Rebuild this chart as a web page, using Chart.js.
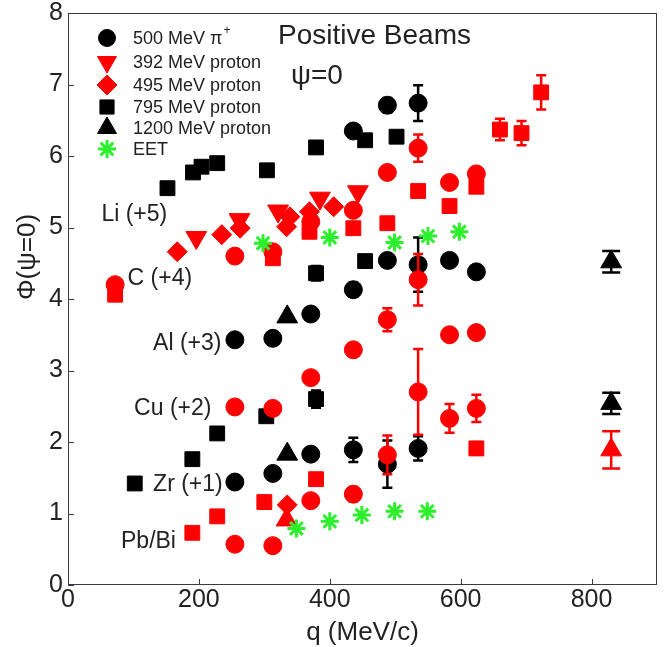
<!DOCTYPE html>
<html>
<head>
<meta charset="utf-8">
<script src="https://cdn.jsdelivr.net/npm/chart.js@4.4.1/dist/chart.umd.min.js"></script>
<style>
  html, body { margin: 0; padding: 0; background: #fff; }
  #wrap { width: 670px; height: 647px; }
</style>
</head>
<body>
<div id="wrap"><canvas id="phiChart" width="670" height="647"></canvas></div>
<script>
/* =========================
   DATA  [q (MeV/c), Phi, error]
========================= */

const qTicks = [0, 200, 400, 600, 800];
const phiTicks = [0, 1, 2, 3, 4, 5, 6, 7, 8];

const pionBlack = [
  [436, 6.35, 0], [488, 6.71, 0.1], [535, 6.74, 0.25],
  [488, 4.54, 0], [535, 4.48, 0.38], [583, 4.54, 0], [624, 4.38, 0], [436, 4.13, 0.1],
  [255, 3.43, 0], [313, 3.45, 0], [371, 3.79, 0],
  [255, 1.44, 0], [313, 1.56, 0], [371, 1.83, 0], [436, 1.89, 0.17], [488, 1.69, 0.33], [535, 1.91, 0.17]
];

const pionRed = [
  [535, 6.11, 0.19], [488, 5.77, 0.08], [583, 5.63, 0], [624, 5.75, 0], [436, 5.24, 0],
  [371, 5.08, 0], [313, 4.66, 0], [255, 4.60, 0],
  [72, 4.20, 0], [535, 4.27, 0.36],
  [371, 2.90, 0], [436, 3.29, 0], [488, 3.71, 0.16], [583, 3.50, 0], [624, 3.53, 0],
  [255, 2.49, 0], [313, 2.47, 0], [535, 2.70, 0.6], [583, 2.33, 0.2], [624, 2.47, 0.19],
  [488, 1.82, 0.27],
  [255, 0.57, 0], [313, 0.55, 0], [371, 1.18, 0.06], [436, 1.27, 0.1]
];

const p392 = [
  [196, 4.86, 0], [262, 5.11, 0], [321, 5.23, 0], [385, 5.41, 0], [443, 5.50, 0]
];

const p495 = [
  [167, 4.66, 0], [235, 4.90, 0], [263, 4.99, 0], [334, 5.01, 0], [339, 5.15, 0],
  [369, 5.22, 0], [406, 5.29, 0],
  [335, 1.12, 0]
];

const p795Black = [
  [152, 5.55, 0], [191, 5.77, 0], [204, 5.85, 0], [228, 5.90, 0], [304, 5.80, 0],
  [379, 6.12, 0], [454, 6.22, 0], [502, 6.27, 0],
  [379, 4.36, 0.1], [454, 4.53, 0],
  [303, 2.36, 0], [228, 2.12, 0], [379, 2.60, 0.12],
  [190, 1.76, 0], [102, 1.42, 0]
];

const p795Red = [
  [660, 6.37, 0.15], [693, 6.32, 0.17], [723, 6.89, 0.24],
  [535, 5.51, 0], [583, 5.30, 0], [624, 5.57, 0], [488, 5.06, 0], [436, 4.99, 0],
  [369, 4.94, 0], [313, 4.57, 0],
  [72, 4.06, 0],
  [624, 1.91, 0.09],
  [190, 0.73, 0.05], [228, 0.96, 0.05], [300, 1.16, 0.05], [379, 1.48, 0.05]
];

const p1200Black = [
  [335, 3.75, 0], [335, 1.83, 0], [830, 4.52, 0.15], [830, 2.54, 0.15]
];

const p1200Red = [
  [334, 0.91, 0], [830, 1.89, 0.26]
];

const eet = [
  [298, 4.78, 0], [400, 4.86, 0], [499, 4.79, 0], [550, 4.88, 0], [598, 4.94, 0],
  [349, 0.79, 0], [400, 0.89, 0], [449, 0.98, 0], [499, 1.03, 0], [549, 1.03, 0]
];

const groupLabels = ["Li (+5)", "C (+4)", "Al (+3)", "Cu (+2)", "Zr (+1)", "Pb/Bi"];

/* =========================
   STYLE
========================= */

const RED = "#ff0000";
const BLACK = "#000000";
const GREEN = "#2cf02c";
const TEXT = "#222222";
const FONT = "'Liberation Sans', Arial, Helvetica, sans-serif";

// label anchors in data units (q, Phi)
const groupLabelPos = [[51, 5.18], [91, 4.29], [130, 3.38], [101, 2.47], [130, 1.41], [81, 0.61]];

function makeSet(label, rows, color, pointStyle, radius, extra) {
  return Object.assign({
    label: label,
    data: rows.map((r) => ({ x: r[0], y: r[1] })),
    err: rows.map((r) => r[2]),
    backgroundColor: color,
    borderColor: color,
    borderWidth: 1,
    pointStyle: pointStyle,
    pointRadius: radius,
    pointHoverRadius: radius,
    showLine: false,
    capWidth: 10,
  }, extra || {});
}

// index 0 is drawn on top
const datasets = [
  makeSet("EET", eet, GREEN, "star", 9, { borderWidth: 3 }),
  makeSet("500 MeV pi+ (red)", pionRed, RED, "circle", 9),
  makeSet("392 MeV proton", p392, RED, "triangle", 12, { rotation: 180 }),
  makeSet("495 MeV proton", p495, RED, "rectRot", 10),
  makeSet("795 MeV proton (red)", p795Red, RED, "rect", 10.5),
  makeSet("1200 MeV proton (red)", p1200Red, RED, "triangle", 12, { capWidth: 18 }),
  makeSet("500 MeV pi+", pionBlack, BLACK, "circle", 9),
  makeSet("795 MeV proton", p795Black, BLACK, "rect", 10.5),
  makeSet("1200 MeV proton", p1200Black, BLACK, "triangle", 12, { capWidth: 18 }),
];

const legendItems = [
  { text: "500 MeV \u03c0", sup: "+", color: BLACK, style: "circle", r: 8.5 },
  { text: "392 MeV proton", color: RED, style: "triangle", r: 11, rot: 180 },
  { text: "495 MeV proton", color: RED, style: "rectRot", r: 10 },
  { text: "795 MeV proton", color: BLACK, style: "rect", r: 10 },
  { text: "1200 MeV proton", color: BLACK, style: "triangle", r: 11 },
  { text: "EET", color: GREEN, style: "star", r: 9, lw: 3 },
];

/* =========================
   PLUGINS
========================= */

const errorBars = {
  id: "errorBars",
  beforeDatasetDraw(chart, args) {
    const ds = chart.data.datasets[args.index];
    if (!ds.err) return;
    const xs = chart.scales.x;
    const ys = chart.scales.y;
    const ctx = chart.ctx;
    ctx.save();
    ctx.strokeStyle = ds.borderColor;
    ctx.lineWidth = 2.5;
    ds.err.forEach((e, i) => {
      if (!e) return;
      const p = ds.data[i];
      const px = xs.getPixelForValue(p.x);
      const top = ys.getPixelForValue(p.y + e);
      const bot = ys.getPixelForValue(p.y - e);
      const hw = ds.capWidth / 2;
      ctx.beginPath();
      ctx.moveTo(px, top);
      ctx.lineTo(px, bot);
      ctx.moveTo(px - hw, top);
      ctx.lineTo(px + hw, top);
      ctx.moveTo(px - hw, bot);
      ctx.lineTo(px + hw, bot);
      ctx.stroke();
    });
    ctx.restore();
  },
};

const frameAndText = {
  id: "frameAndText",
  afterDraw(chart) {
    const ctx = chart.ctx;
    const a = chart.chartArea;
    const xs = chart.scales.x;
    const ys = chart.scales.y;
    ctx.save();

    // box
    ctx.strokeStyle = "#3a3a44";
    ctx.lineWidth = 1;
    ctx.strokeRect(a.left + 0.5, a.top + 0.5, a.right - a.left - 1, a.bottom - a.top - 1);

    // inward tick marks
    ctx.beginPath();
    qTicks.forEach((v) => {
      const px = Math.round(xs.getPixelForValue(v)) + 0.5;
      ctx.moveTo(px, a.bottom);
      ctx.lineTo(px, a.bottom - 6);
    });
    phiTicks.forEach((v) => {
      const py = Math.round(ys.getPixelForValue(v)) + 0.5;
      ctx.moveTo(a.left, py);
      ctx.lineTo(a.left + 6, py);
    });
    ctx.stroke();

    // axis titles
    ctx.fillStyle = TEXT;
    ctx.font = "26px " + FONT;
    ctx.textAlign = "center";
    ctx.textBaseline = "alphabetic";
    ctx.fillText("q (MeV/c)", (a.left + a.right) / 2, 640);
    ctx.save();
    ctx.translate(28, 257);
    ctx.rotate(-Math.PI / 2);
    ctx.textBaseline = "middle";
    ctx.fillText("\u03a6(\u03c8=0)", 0, 0);
    ctx.restore();

    // title
    ctx.font = "28px " + FONT;
    ctx.textAlign = "left";
    ctx.textBaseline = "middle";
    ctx.fillText("Positive Beams", 278, 36);
    ctx.fillText("\u03c8=0", 291, 76);

    // nucleus labels
    ctx.font = "23px " + FONT;
    groupLabels.forEach((t, i) => {
      const pos = groupLabelPos[i];
      ctx.fillText(t, xs.getPixelForValue(pos[0]), ys.getPixelForValue(pos[1]));
    });

    // legend
    const rowY = [38, 62, 85, 107, 128, 149];
    legendItems.forEach((it, i) => {
      ctx.fillStyle = it.color;
      ctx.strokeStyle = it.color;
      const opts = { pointStyle: it.style, radius: it.r, rotation: it.rot || 0, borderWidth: it.lw || 1 };
      ctx.lineWidth = opts.borderWidth;
      Chart.helpers.drawPoint(ctx, opts, 107, rowY[i]);
      ctx.fillStyle = TEXT;
      ctx.font = "18px " + FONT;
      ctx.textAlign = "left";
      ctx.textBaseline = "middle";
      ctx.fillText(it.text, 133, rowY[i] + 1);
      if (it.sup) {
        const w = ctx.measureText(it.text).width;
        ctx.font = "12px " + FONT;
        ctx.fillText(it.sup, 133 + w + 1, rowY[i] - 7);
      }
    });

    ctx.restore();
  },
};

/* =========================
   CHART
========================= */

const phiChart = new Chart(document.getElementById("phiChart"), {
  type: "scatter",
  data: { datasets: datasets },
  options: {
    responsive: false,
    animation: false,
    events: [],
    layout: { padding: { top: 13, right: 13, left: 0, bottom: 0 } },
    plugins: {
      legend: { display: false },
      tooltip: { enabled: false },
    },
    scales: {
      x: {
        type: "linear",
        min: 0,
        max: 900,
        afterBuildTicks: (s) => { s.ticks = qTicks.map((v) => ({ value: v })); },
        afterFit: (s) => { s.height = 62; s.paddingLeft = 0; s.paddingRight = 0; },
        grid: { display: false, drawTicks: false },
        border: { display: false },
        ticks: { color: TEXT, font: { family: FONT, size: 25 }, padding: 0, maxRotation: 0, autoSkip: false },
      },
      y: {
        type: "linear",
        min: 0,
        max: 8,
        afterBuildTicks: (s) => { s.ticks = phiTicks.map((v) => ({ value: v })); },
        afterFit: (s) => { s.width = 68; s.paddingTop = 0; s.paddingBottom = 0; },
        grid: { display: false, drawTicks: false },
        border: { display: false },
        ticks: { color: TEXT, font: { family: FONT, size: 25 }, padding: 5, autoSkip: false },
      },
    },
  },
  plugins: [errorBars, frameAndText],
});
</script>
</body>
</html>
